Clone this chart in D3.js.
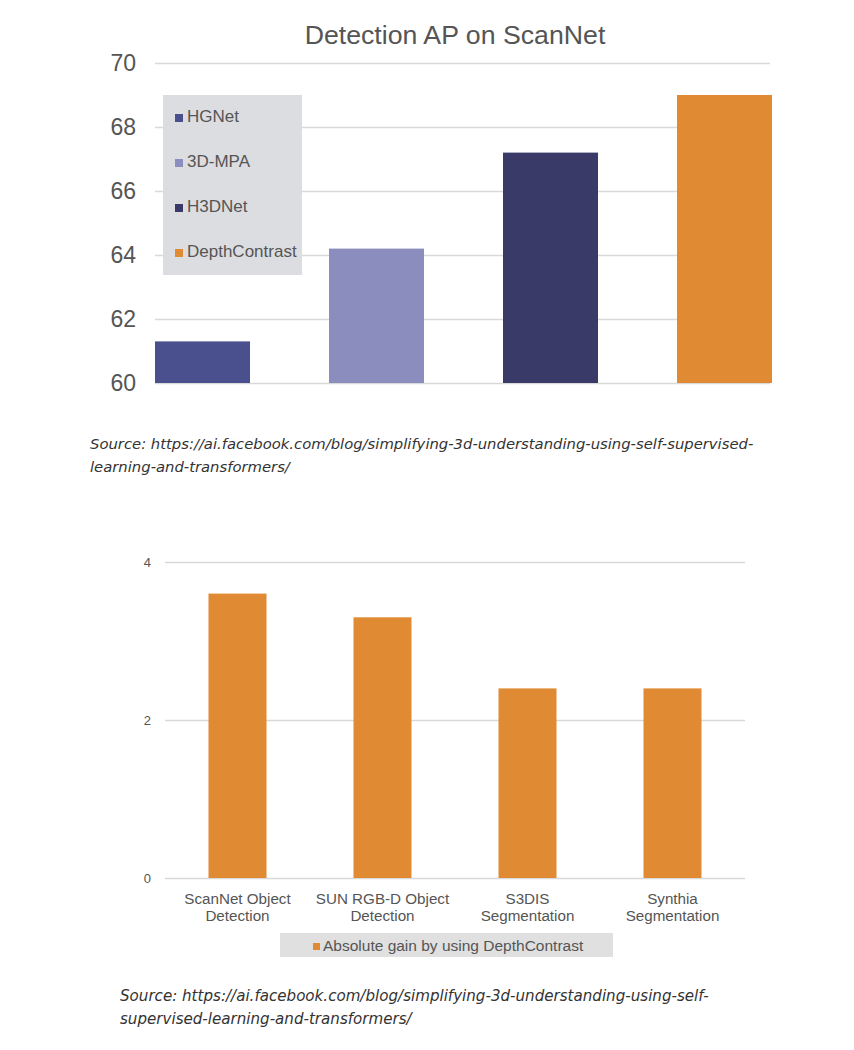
<!DOCTYPE html>
<html>
<head>
<meta charset="utf-8">
<script src="https://cdn.jsdelivr.net/npm/d3@7"></script>
<style>
  body { margin: 0; background: #fff; }
  svg { display: block; }
</style>
</head>
<body>
<svg id="chart" width="854" height="1050"></svg>
<script>
// top chart data
const methods = ['HGNet', '3D-MPA', 'H3DNet', 'DepthContrast']
const apValues = [61.3, 64.2, 67.2, 69.0]
const apTicks = [60, 62, 64, 66, 68, 70]
const methodColors = ['#4a4f8e', '#8b8dbf', '#3a3a69', '#e08a33']

// bottom chart data
const tasks = [['ScanNet Object', 'Detection'], ['SUN RGB-D Object', 'Detection'], ['S3DIS', 'Segmentation'], ['Synthia', 'Segmentation']]
const gainValues = [3.6, 3.3, 2.4, 2.4]
const gainTicks = [0, 2, 4]

const sourceLines1 = ['Source: https://ai.facebook.com/blog/simplifying-3d-understanding-using-self-supervised-', 'learning-and-transformers/']
const sourceLines2 = ['Source: https://ai.facebook.com/blog/simplifying-3d-understanding-using-self-', 'supervised-learning-and-transformers/']

const svg = d3.select('#chart')
const font = '"Liberation Sans", Arial, sans-serif'

//---- top chart ----
const y1 = d3.scaleLinear().domain([60, 70]).range([383, 63])
const x1 = d3.scaleBand().domain(methods).range([155, 772]).paddingInner(0.454).paddingOuter(0)

svg.append('text')
    .attr('x', 455).attr('y', 44)
    .attr('text-anchor', 'middle')
    .attr('font-family', font).attr('font-size', 26.7)
    .attr('fill', '#555')
    .text('Detection AP on ScanNet')

const topChart = svg.append('g')

topChart.append('g')
    .attr('transform', 'translate(155,0)')
    .call(d3.axisLeft(y1).tickValues(apTicks).tickSize(-615).tickPadding(19))
    .call(g => g.select('.domain').remove())
    .call(g => g.selectAll('line').attr('stroke', '#d9d9d9').attr('stroke-width', 1.5))
    .call(g => g.selectAll('text').attr('font-family', font).attr('font-size', 23).attr('fill', '#555'))

topChart.selectAll('rect.bar')
    .data(apValues)
    .enter()
    .append('rect')
    .attr('class', 'bar')
    .attr('x', (d, i) => x1(methods[i]))
    .attr('width', x1.bandwidth())
    .attr('y', d => y1(d))
    .attr('height', d => y1(60) - y1(d))
    .attr('fill', (d, i) => methodColors[i])

// legend
const legend1 = topChart.append('g')
legend1.append('rect')
    .attr('x', 163).attr('y', 95).attr('width', 139).attr('height', 180)
    .attr('fill', '#dcdde0')

methods.forEach((m, i) => {
    const base = 122 + i * 45
    legend1.append('rect')
        .attr('x', 175).attr('y', base - 8).attr('width', 8).attr('height', 8)
        .attr('fill', methodColors[i])
    legend1.append('text')
        .attr('x', 187).attr('y', base)
        .attr('font-family', font).attr('font-size', 17)
        .attr('fill', '#555')
        .text(m)
})

const sourceText = (lines, x, y, size) => {
    lines.forEach((l, i) => {
        svg.append('text')
            .attr('x', x).attr('y', y + i * 23)
            .attr('font-family', '"DejaVu Sans", Verdana, sans-serif')
            .attr('font-size', size).attr('font-style', 'italic')
            .attr('fill', '#333')
            .text(l)
    })
}

sourceText(sourceLines1, 90, 449, 14.8)

//---- bottom chart ----
const y2 = d3.scaleLinear().domain([0, 4]).range([878, 562])
const x2 = d3.scaleBand().domain(tasks.map(t => t.join(' '))).range([165, 745]).paddingInner(0.6).paddingOuter(0.3)

const bottomChart = svg.append('g')

bottomChart.append('g')
    .attr('transform', 'translate(165,0)')
    .call(d3.axisLeft(y2).tickValues(gainTicks).tickFormat(d3.format('d')).tickSize(-580).tickPadding(14))
    .call(g => g.select('.domain').remove())
    .call(g => g.selectAll('line').attr('stroke', '#d9d9d9').attr('stroke-width', 1.5))
    .call(g => g.selectAll('text').attr('font-family', font).attr('font-size', 13).attr('fill', '#555'))

bottomChart.selectAll('rect.bar')
    .data(gainValues)
    .enter()
    .append('rect')
    .attr('class', 'bar')
    .attr('x', (d, i) => x2(tasks[i].join(' ')))
    .attr('width', x2.bandwidth())
    .attr('y', d => y2(d))
    .attr('height', d => y2(0) - y2(d))
    .attr('fill', '#e08a33')

tasks.forEach(t => {
    const cx = x2(t.join(' ')) + x2.bandwidth() / 2
    t.forEach((line, j) => {
        bottomChart.append('text')
            .attr('x', cx).attr('y', 904 + j * 17)
            .attr('text-anchor', 'middle')
            .attr('font-family', font).attr('font-size', 15.2)
            .attr('fill', '#555')
            .text(line)
    })
})

bottomChart.append('rect')
    .attr('x', 280).attr('y', 933).attr('width', 333).attr('height', 24)
    .attr('fill', '#e0e0e0')
bottomChart.append('rect')
    .attr('x', 313).attr('y', 943).attr('width', 7).attr('height', 7)
    .attr('fill', '#e08a33')
bottomChart.append('text')
    .attr('x', 323).attr('y', 951)
    .attr('font-family', font).attr('font-size', 15.5)
    .attr('fill', '#555')
    .text('Absolute gain by using DepthContrast')

sourceText(sourceLines2, 120, 1001, 15.1)
</script>
</body>
</html>
